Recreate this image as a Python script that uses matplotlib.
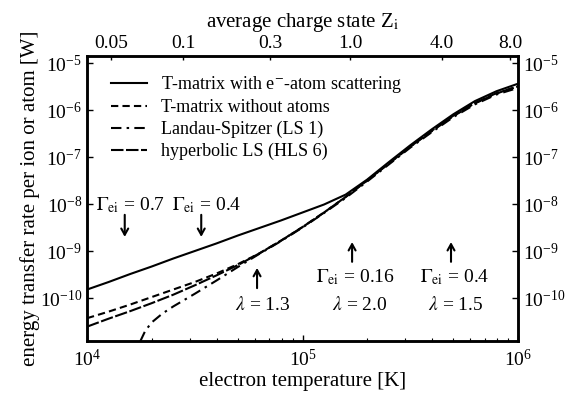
import numpy as np
import matplotlib
matplotlib.use("Agg")
import matplotlib.pyplot as plt
from matplotlib.ticker import LogLocator, NullFormatter, NullLocator, LogFormatterSciNotation

plt.rcParams['font.family'] = ['Liberation Serif', 'DejaVu Serif']
plt.rcParams['mathtext.fontset'] = 'stix'
plt.rcParams['axes.unicode_minus'] = False

# ---- data (log10 of temperature [K] and of energy transfer rate [W]) ----
log_T = [4.0, 4.1, 4.2, 4.3, 4.4, 4.5, 4.6, 4.7, 4.8, 4.9, 5.0,
         5.1, 5.2, 5.3, 5.4, 5.5, 5.6, 5.7, 5.8, 5.9, 6.0]
log_rate_tm_atoms = [-9.82, -9.66, -9.49, -9.33, -9.16, -9.00, -8.84, -8.67, -8.51, -8.35, -8.18,
                     -8.01, -7.80, -7.48, -7.11, -6.75, -6.41, -6.09, -5.81, -5.60, -5.44]
log_rate_tm_noatoms = [-10.43, -10.29, -10.14, -9.98, -9.82, -9.66, -9.48, -9.28, -9.05, -8.78, -8.49,
                       -8.18, -7.85, -7.50, -7.14, -6.78, -6.45, -6.13, -5.86, -5.65, -5.49]
log_rate_hls6 = [-10.61, -10.44, -10.28, -10.11, -9.93, -9.73, -9.52, -9.30, -9.05, -8.78, -8.49,
                 -8.18, -7.85, -7.50, -7.14, -6.78, -6.44, -6.12, -5.85, -5.64, -5.50]
log_T_ls1 = [4.22, 4.24, 4.27, 4.30, 4.35, 4.4, 4.5, 4.6, 4.7, 4.8, 4.9, 5.0,
             5.1, 5.2, 5.3, 5.4, 5.5, 5.6, 5.7, 5.8, 5.9, 6.0]
log_rate_ls1 = [-11.4, -10.99, -10.70, -10.52, -10.33, -10.18, -9.91, -9.63, -9.34, -9.06, -8.79, -8.50,
                -8.19, -7.87, -7.52, -7.16, -6.80, -6.47, -6.15, -5.88, -5.67, -5.53]

labels = ['T-matrix with e$^{-}$-atom scattering',
          'T-matrix without atoms',
          'Landau-Spitzer (LS 1)',
          'hyperbolic LS (HLS 6)']

# top axis: average charge state Z_i at given temperatures
zi_labels = ['0.05', '0.1', '0.3', '1.0', '4.0', '8.0']
zi_temps = [1.29e4, 2.79e4, 7.07e4, 1.66e5, 4.44e5, 9.18e5]

# annotations: (text, log T, log rate) and arrows (log T, log start, log tip)
ann_texts = [(r'$\Gamma_{\rm ei}$ = 0.7', 4.20, -8.02),
             (r'$\Gamma_{\rm ei}$ = 0.4', 4.555, -8.02),
             (r'$\lambda$ = 1.3', 4.817, -10.15),
             (r'$\Gamma_{\rm ei}$ = 0.16', 5.244, -9.55),
             (r'$\lambda$ = 2.0', 5.267, -10.15),
             (r'$\Gamma_{\rm ei}$ = 0.4', 5.708, -9.55),
             (r'$\lambda$ = 1.5', 5.712, -10.15)]
ann_arrows = [(4.175, -8.23, -8.70),
              (4.530, -8.23, -8.70),
              (4.789, -9.79, -9.36),
              (5.230, -9.23, -8.81),
              (5.689, -9.23, -8.81)]

# ---- figure ----
fig = plt.figure(figsize=(5.79, 4.01), dpi=100)
ax = fig.add_axes([0.1503, 0.1496, 0.7444, 0.7107])

T = 10 ** np.array(log_T)
ax.plot(T, 10 ** np.array(log_rate_tm_atoms), color='black', lw=1.5, ls='-', label=labels[0])
ax.plot(T, 10 ** np.array(log_rate_tm_noatoms), color='black', lw=1.5, ls=(0, (3.5, 2)), label=labels[1])
ax.plot(10 ** np.array(log_T_ls1), 10 ** np.array(log_rate_ls1), color='black', lw=1.5,
        ls=(0, (5, 2.5, 1.2, 2.5)), label=labels[2])
ax.plot(T, 10 ** np.array(log_rate_hls6), color='black', lw=1.5, ls=(0, (6, 1.2)), label=labels[3])

ax.set_xscale('log')
ax.set_yscale('log')
ax.set_xlim(1e4, 1e6)
ax.set_ylim(10 ** -10.915, 10 ** -4.851)

ax.set_yticks([1e-10, 1e-9, 1e-8, 1e-7, 1e-6, 1e-5])
ax.yaxis.set_minor_locator(NullLocator())
ax.yaxis.set_major_formatter(LogFormatterSciNotation())
ax.xaxis.set_major_formatter(LogFormatterSciNotation())
ax.xaxis.set_minor_locator(LogLocator(base=10, subs=np.arange(2, 10), numticks=20))
ax.xaxis.set_minor_formatter(NullFormatter())

ax.tick_params(axis='both', which='major', direction='in', length=4, width=1,
               labelsize=14, right=True, labelright=True, top=False)
ax.tick_params(axis='x', which='minor', direction='in', length=2, width=0.8, top=False)
ax.tick_params(axis='x', which='major', pad=6)
for s in ax.spines.values():
    s.set_linewidth(1.8)

ax.set_xlabel('electron temperature [K]', fontsize=15, labelpad=1)
ax.set_ylabel('energy transfer rate per ion or atom [W]', fontsize=15, labelpad=0)

ax2 = ax.twiny()
ax2.set_xscale('log')
ax2.set_xlim(ax.get_xlim())
ax2.xaxis.set_minor_locator(NullLocator())
ax2.set_xticks(zi_temps)
ax2.set_xticklabels(zi_labels)
ax2.tick_params(axis='x', direction='in', length=3, width=1, labelsize=14, pad=3)
ax2.set_xlabel('average charge state Z$_{\\rm i}$', fontsize=15, labelpad=6)
for s in ax2.spines.values():
    s.set_linewidth(1.8)

leg = ax.legend(loc='upper left', bbox_to_anchor=(0.03, 0.975), frameon=False, fontsize=13,
                handlelength=2.0, handletextpad=0.8, labelspacing=0.25, borderaxespad=0.2)

for txt, lx, ly in ann_texts:
    ax.text(10 ** lx, 10 ** ly, txt, fontsize=14, ha='center', va='center')
for lx, l0, l1 in ann_arrows:
    ax.annotate('', xy=(10 ** lx, 10 ** l1), xytext=(10 ** lx, 10 ** l0),
                arrowprops=dict(arrowstyle='->,head_length=0.45,head_width=0.25', lw=1.5, color='black',
                                shrinkA=0, shrinkB=0))

fig.savefig('out.png', dpi=100)
